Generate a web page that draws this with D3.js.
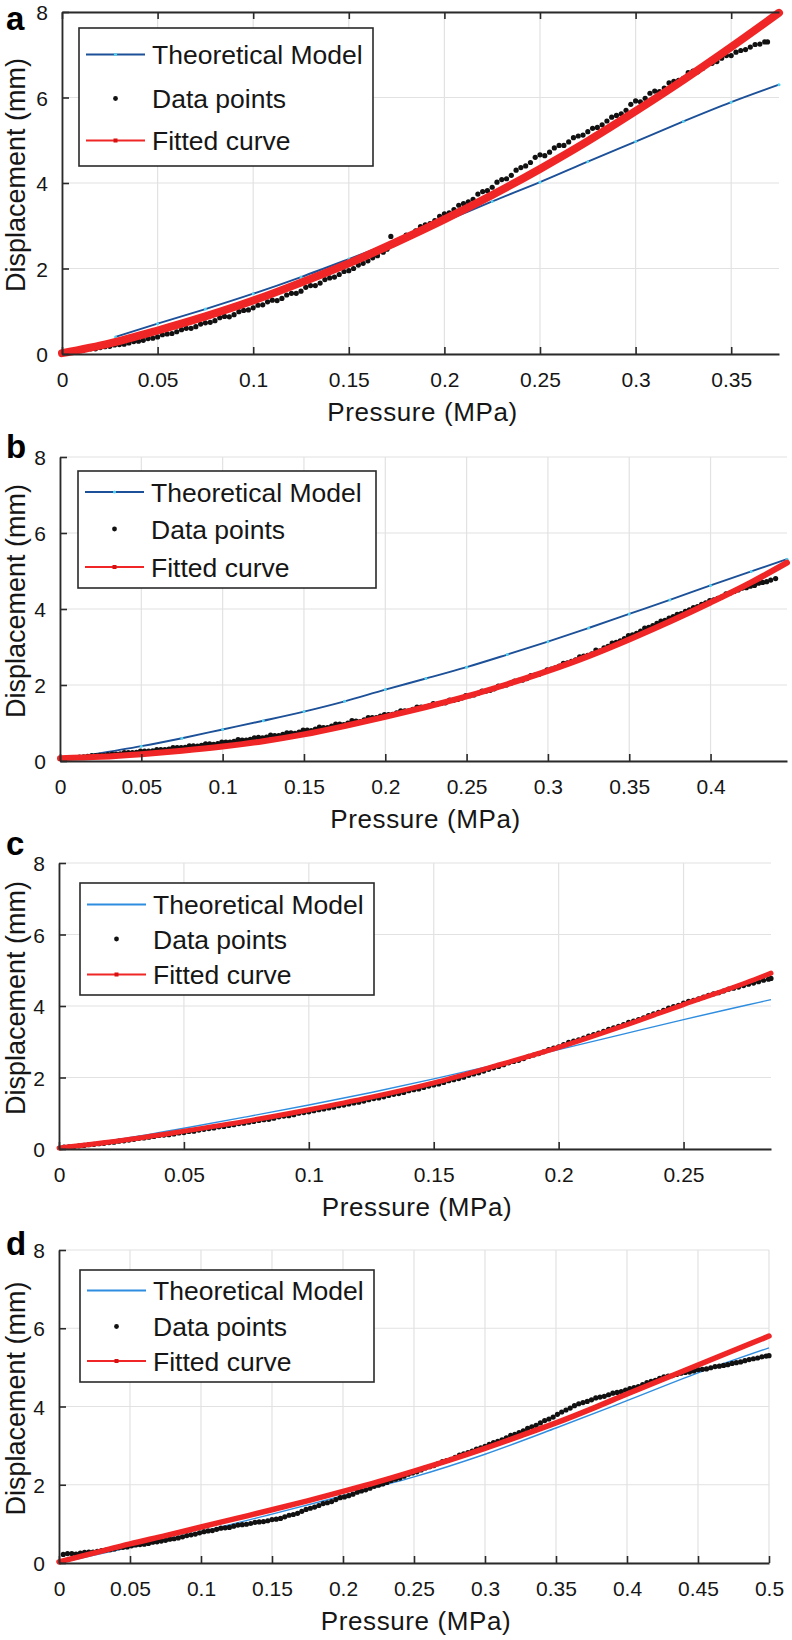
<!DOCTYPE html>
<html>
<head>
<meta charset="utf-8">
<script src="https://cdn.jsdelivr.net/npm/d3@7"></script>
<style>
  html, body { margin: 0; padding: 0; background: #ffffff; }
  svg { display: block; font-family: "Liberation Sans", Arial, Helvetica, sans-serif; }
</style>
</head>
<body>
<svg id="chart" width="792" height="1640"></svg>
<script>
// ---------------- DATA ----------------
const panelLetters = ["a", "b", "c", "d"];
const legendLabels = ["Theoretical Model", "Data points", "Fitted curve"];
const xAxisTitle = "Pressure (MPa)";
const yAxisTitle = "Displacement (mm)";

const yTicks = [0, 2, 4, 6, 8];
const yTickLabels = ["0", "2", "4", "6", "8"];

const xMaxA = 0.375, xMaxB = 0.447, xMaxC = 0.285, xMaxD = 0.5;
const xTicksA = [0, 0.05, 0.1, 0.15, 0.2, 0.25, 0.3, 0.35];
const xTickLabelsA = ["0", "0.05", "0.1", "0.15", "0.2", "0.25", "0.3", "0.35"];
const xTicksB = [0, 0.05, 0.1, 0.15, 0.2, 0.25, 0.3, 0.35, 0.4];
const xTickLabelsB = ["0", "0.05", "0.1", "0.15", "0.2", "0.25", "0.3", "0.35", "0.4"];
const xTicksC = [0, 0.05, 0.1, 0.15, 0.2, 0.25];
const xTickLabelsC = ["0", "0.05", "0.1", "0.15", "0.2", "0.25"];
const xTicksD = [0, 0.05, 0.1, 0.15, 0.2, 0.25, 0.3, 0.35, 0.4, 0.45, 0.5];
const xTickLabelsD = ["0", "0.05", "0.1", "0.15", "0.2", "0.25", "0.3", "0.35", "0.4", "0.45", "0.5"];

// Theoretical model [pressure MPa, displacement mm]
const theoryA = [[0.028,0.40],[0.05,0.71],[0.075,1.05],[0.1,1.41],[0.125,1.80],[0.15,2.22],[0.168,2.53],[0.2,3.10],[0.225,3.57],[0.25,4.02],[0.275,4.50],[0.3,4.97],[0.325,5.44],[0.35,5.89],[0.375,6.30]];
const theoryB = [[0.02,0.17],[0.05,0.39],[0.075,0.60],[0.1,0.83],[0.125,1.06],[0.15,1.30],[0.175,1.57],[0.2,1.88],[0.225,2.17],[0.25,2.47],[0.275,2.80],[0.3,3.14],[0.325,3.50],[0.35,3.87],[0.375,4.24],[0.4,4.62],[0.425,4.99],[0.447,5.31]];
const theoryC = [[0,0.03],[0.025,0.28],[0.05,0.58],[0.075,0.90],[0.1,1.23],[0.125,1.58],[0.15,1.96],[0.175,2.36],[0.2,2.78],[0.225,3.20],[0.25,3.62],[0.275,4.02],[0.285,4.18]];
const theoryD = [[0,0.0],[0.05,0.40],[0.1,0.80],[0.15,1.25],[0.2,1.72],[0.25,2.20],[0.3,2.78],[0.35,3.45],[0.4,4.15],[0.45,4.86],[0.5,5.50]];

// Fitted curve
const fitA = [[0,0.02],[0.025,0.25],[0.05,0.55],[0.075,0.88],[0.1,1.25],[0.125,1.67],[0.15,2.12],[0.175,2.62],[0.2,3.15],[0.225,3.72],[0.25,4.33],[0.275,4.98],[0.3,5.68],[0.325,6.41],[0.35,7.18],[0.375,7.98]];
const fitB = [[0,0.07],[0.025,0.11],[0.05,0.18],[0.075,0.27],[0.1,0.38],[0.125,0.52],[0.15,0.70],[0.175,0.92],[0.2,1.16],[0.225,1.42],[0.25,1.70],[0.275,2.02],[0.3,2.37],[0.325,2.76],[0.35,3.20],[0.375,3.67],[0.4,4.17],[0.425,4.70],[0.447,5.22]];
const fitC = [[0,0.03],[0.025,0.24],[0.05,0.50],[0.075,0.78],[0.1,1.10],[0.125,1.45],[0.15,1.85],[0.175,2.33],[0.2,2.84],[0.225,3.42],[0.25,4.04],[0.275,4.65],[0.285,4.92]];
const fitD = [[0,0.03],[0.025,0.26],[0.05,0.49],[0.075,0.70],[0.1,0.92],[0.125,1.14],[0.15,1.36],[0.175,1.59],[0.2,1.83],[0.225,2.08],[0.25,2.35],[0.275,2.63],[0.3,2.93],[0.325,3.25],[0.35,3.58],[0.375,3.94],[0.4,4.32],[0.425,4.69],[0.45,5.06],[0.475,5.43],[0.5,5.80]];

// Measured data points
const dataA = [[0.003,0.05],[0.0045,0.06],[0.006,0.07],[0.008,0.06],[0.01,0.08],[0.0125,0.11],[0.015,0.12],[0.0175,0.12],[0.02,0.15],[0.0225,0.17],[0.025,0.18],[0.0275,0.21],[0.03,0.22],[0.0325,0.23],[0.035,0.26],[0.0375,0.29],[0.04,0.30],[0.0425,0.32],[0.045,0.36],[0.0475,0.37],[0.05,0.40],[0.0525,0.45],[0.055,0.47],[0.0575,0.48],[0.06,0.52],[0.0625,0.57],[0.065,0.60],[0.0675,0.60],[0.07,0.64],[0.0725,0.70],[0.075,0.73],[0.0775,0.74],[0.08,0.78],[0.0825,0.85],[0.085,0.88],[0.0875,0.87],[0.09,0.92],[0.0925,0.99],[0.095,1.02],[0.0975,1.03],[0.1,1.08],[0.1025,1.14],[0.105,1.15],[0.1075,1.22],[0.11,1.26],[0.1125,1.25],[0.115,1.30],[0.1175,1.38],[0.12,1.42],[0.1225,1.42],[0.125,1.47],[0.1275,1.56],[0.13,1.60],[0.1325,1.60],[0.135,1.66],[0.1375,1.74],[0.14,1.78],[0.1425,1.80],[0.145,1.86],[0.1475,1.93],[0.15,1.95],[0.1525,2.00],[0.155,2.08],[0.1575,2.12],[0.16,2.18],[0.1625,2.25],[0.165,2.30],[0.168,2.38],[0.17,2.45],[0.172,2.75],[0.1735,2.56],[0.175,2.62],[0.1775,2.70],[0.18,2.78],[0.1825,2.80],[0.185,2.88],[0.1875,2.98],[0.19,3.02],[0.1925,3.05],[0.195,3.12],[0.1975,3.22],[0.2,3.28],[0.2025,3.30],[0.205,3.38],[0.2075,3.48],[0.21,3.52],[0.2125,3.56],[0.215,3.62],[0.2175,3.74],[0.22,3.80],[0.2225,3.82],[0.225,3.90],[0.2275,4.02],[0.23,4.08],[0.2325,4.10],[0.235,4.18],[0.2375,4.30],[0.24,4.36],[0.2425,4.40],[0.245,4.48],[0.2475,4.60],[0.25,4.66],[0.2525,4.64],[0.255,4.72],[0.2575,4.82],[0.26,4.88],[0.2625,4.88],[0.265,4.96],[0.2675,5.06],[0.27,5.10],[0.2725,5.12],[0.275,5.20],[0.2775,5.28],[0.28,5.30],[0.2825,5.36],[0.285,5.45],[0.2875,5.54],[0.29,5.58],[0.2925,5.62],[0.295,5.70],[0.2975,5.84],[0.3,5.92],[0.3025,5.90],[0.305,5.98],[0.3075,6.10],[0.31,6.15],[0.3125,6.14],[0.315,6.22],[0.3175,6.34],[0.32,6.38],[0.3225,6.40],[0.325,6.45],[0.3275,6.58],[0.33,6.62],[0.3325,6.60],[0.335,6.68],[0.3375,6.78],[0.34,6.80],[0.3425,6.84],[0.345,6.92],[0.3475,6.98],[0.35,6.98],[0.3525,7.06],[0.355,7.10],[0.3575,7.12],[0.36,7.18],[0.3625,7.24],[0.365,7.25],[0.3675,7.30],[0.369,7.30]];
const dataB = [[0.012,0.10],[0.0145,0.11],[0.017,0.12],[0.0195,0.14],[0.022,0.14],[0.0245,0.15],[0.027,0.15],[0.0295,0.17],[0.032,0.18],[0.0345,0.18],[0.037,0.19],[0.0395,0.22],[0.042,0.22],[0.0445,0.22],[0.047,0.23],[0.0495,0.26],[0.052,0.26],[0.0545,0.26],[0.057,0.27],[0.0595,0.30],[0.062,0.30],[0.0645,0.30],[0.067,0.31],[0.0695,0.35],[0.072,0.35],[0.0745,0.35],[0.077,0.36],[0.0795,0.40],[0.082,0.40],[0.0845,0.39],[0.087,0.41],[0.0895,0.45],[0.092,0.45],[0.0945,0.44],[0.097,0.46],[0.0995,0.50],[0.102,0.50],[0.1045,0.50],[0.107,0.52],[0.1095,0.56],[0.112,0.55],[0.1145,0.55],[0.117,0.57],[0.1195,0.61],[0.122,0.62],[0.1245,0.61],[0.127,0.63],[0.1295,0.68],[0.132,0.67],[0.1345,0.67],[0.137,0.70],[0.1395,0.74],[0.142,0.74],[0.1445,0.73],[0.147,0.76],[0.1495,0.81],[0.152,0.81],[0.1545,0.80],[0.157,0.84],[0.1595,0.89],[0.162,0.88],[0.1645,0.88],[0.167,0.92],[0.1695,0.97],[0.172,0.97],[0.1745,0.96],[0.177,1.00],[0.1795,1.06],[0.182,1.05],[0.1845,1.04],[0.187,1.08],[0.1895,1.14],[0.192,1.14],[0.1945,1.14],[0.197,1.18],[0.1995,1.22],[0.202,1.22],[0.2045,1.23],[0.207,1.27],[0.2095,1.32],[0.212,1.32],[0.2145,1.32],[0.217,1.36],[0.2195,1.42],[0.222,1.42],[0.2245,1.42],[0.227,1.45],[0.2295,1.51],[0.232,1.50],[0.2345,1.52],[0.237,1.53],[0.2395,1.60],[0.242,1.60],[0.2445,1.62],[0.247,1.66],[0.2495,1.72],[0.252,1.72],[0.2545,1.74],[0.257,1.78],[0.2595,1.84],[0.262,1.84],[0.2645,1.86],[0.267,1.90],[0.2695,1.97],[0.272,1.98],[0.2745,2.00],[0.277,2.04],[0.2795,2.10],[0.282,2.12],[0.2845,2.13],[0.287,2.17],[0.2895,2.25],[0.292,2.26],[0.2945,2.28],[0.297,2.33],[0.2995,2.40],[0.302,2.42],[0.3045,2.45],[0.307,2.50],[0.3095,2.57],[0.312,2.58],[0.3145,2.62],[0.317,2.66],[0.3195,2.74],[0.322,2.76],[0.3245,2.78],[0.327,2.82],[0.3295,2.92],[0.332,2.90],[0.3345,2.98],[0.337,3.02],[0.3395,3.10],[0.342,3.12],[0.3445,3.16],[0.347,3.22],[0.3495,3.30],[0.352,3.32],[0.3545,3.36],[0.357,3.42],[0.3595,3.50],[0.362,3.52],[0.3645,3.56],[0.367,3.62],[0.3695,3.68],[0.372,3.70],[0.3745,3.76],[0.377,3.80],[0.3795,3.86],[0.382,3.88],[0.3845,3.94],[0.387,3.98],[0.3895,4.04],[0.392,4.06],[0.3945,4.12],[0.397,4.16],[0.3995,4.22],[0.402,4.24],[0.4045,4.28],[0.407,4.32],[0.4095,4.40],[0.412,4.42],[0.4145,4.46],[0.417,4.50],[0.4195,4.55],[0.422,4.56],[0.4245,4.60],[0.427,4.62],[0.4295,4.68],[0.432,4.70],[0.4345,4.72],[0.437,4.76],[0.44,4.80]];
const dataC = [[0.002,0.05],[0.004,0.06],[0.006,0.07],[0.008,0.09],[0.010,0.10],[0.012,0.12],[0.014,0.13],[0.016,0.15],[0.018,0.16],[0.020,0.18],[0.022,0.19],[0.024,0.22],[0.026,0.23],[0.028,0.25],[0.030,0.27],[0.032,0.30],[0.034,0.31],[0.036,0.33],[0.038,0.35],[0.040,0.38],[0.042,0.39],[0.044,0.40],[0.046,0.42],[0.048,0.45],[0.050,0.46],[0.052,0.49],[0.054,0.50],[0.056,0.53],[0.058,0.55],[0.060,0.57],[0.062,0.59],[0.064,0.62],[0.066,0.63],[0.068,0.66],[0.070,0.68],[0.072,0.71],[0.074,0.72],[0.076,0.75],[0.078,0.77],[0.080,0.80],[0.082,0.82],[0.084,0.83],[0.086,0.86],[0.088,0.90],[0.090,0.92],[0.092,0.93],[0.094,0.96],[0.096,1.00],[0.098,1.02],[0.100,1.04],[0.102,1.07],[0.104,1.10],[0.106,1.12],[0.108,1.15],[0.110,1.17],[0.112,1.21],[0.114,1.23],[0.116,1.26],[0.118,1.29],[0.120,1.31],[0.122,1.34],[0.124,1.38],[0.126,1.41],[0.128,1.43],[0.130,1.46],[0.132,1.50],[0.134,1.53],[0.136,1.55],[0.138,1.58],[0.140,1.63],[0.142,1.66],[0.144,1.68],[0.146,1.72],[0.148,1.76],[0.150,1.79],[0.152,1.82],[0.154,1.86],[0.156,1.91],[0.158,1.94],[0.160,1.97],[0.162,2.01],[0.164,2.06],[0.166,2.10],[0.168,2.13],[0.170,2.18],[0.172,2.23],[0.174,2.27],[0.176,2.31],[0.178,2.36],[0.180,2.41],[0.182,2.45],[0.184,2.48],[0.186,2.53],[0.188,2.59],[0.190,2.63],[0.192,2.67],[0.194,2.72],[0.196,2.78],[0.198,2.82],[0.200,2.86],[0.202,2.92],[0.204,2.98],[0.206,3.02],[0.208,3.05],[0.210,3.10],[0.212,3.16],[0.214,3.20],[0.216,3.24],[0.218,3.29],[0.220,3.35],[0.222,3.39],[0.224,3.43],[0.226,3.48],[0.228,3.54],[0.230,3.58],[0.232,3.62],[0.234,3.67],[0.236,3.73],[0.238,3.78],[0.240,3.82],[0.242,3.88],[0.244,3.94],[0.246,3.98],[0.248,4.02],[0.250,4.08],[0.252,4.13],[0.254,4.16],[0.256,4.20],[0.258,4.25],[0.260,4.30],[0.262,4.34],[0.264,4.37],[0.266,4.42],[0.268,4.47],[0.270,4.50],[0.272,4.53],[0.274,4.57],[0.276,4.61],[0.278,4.64],[0.280,4.68],[0.282,4.72],[0.284,4.75],[0.285,4.77]];
const dataD = [[0.003,0.22],[0.006,0.24],[0.009,0.24],[0.012,0.23],[0.015,0.25],[0.018,0.27],[0.021,0.28],[0.024,0.28],[0.027,0.30],[0.030,0.32],[0.033,0.33],[0.036,0.34],[0.039,0.36],[0.042,0.39],[0.045,0.40],[0.048,0.41],[0.051,0.44],[0.054,0.46],[0.057,0.47],[0.060,0.48],[0.063,0.50],[0.066,0.53],[0.069,0.54],[0.072,0.56],[0.075,0.58],[0.078,0.61],[0.081,0.62],[0.084,0.64],[0.087,0.67],[0.090,0.70],[0.093,0.72],[0.096,0.74],[0.099,0.77],[0.102,0.80],[0.105,0.82],[0.108,0.83],[0.111,0.86],[0.114,0.89],[0.117,0.90],[0.120,0.91],[0.123,0.94],[0.126,0.97],[0.129,0.98],[0.132,0.99],[0.135,1.01],[0.138,1.04],[0.141,1.05],[0.144,1.06],[0.147,1.08],[0.150,1.11],[0.153,1.12],[0.156,1.14],[0.159,1.18],[0.162,1.22],[0.165,1.24],[0.168,1.27],[0.171,1.32],[0.174,1.37],[0.177,1.40],[0.180,1.43],[0.183,1.47],[0.186,1.52],[0.189,1.54],[0.192,1.57],[0.195,1.62],[0.198,1.67],[0.201,1.69],[0.204,1.72],[0.207,1.76],[0.210,1.81],[0.213,1.84],[0.216,1.87],[0.219,1.91],[0.222,1.96],[0.225,1.99],[0.228,2.02],[0.231,2.06],[0.234,2.11],[0.237,2.14],[0.240,2.17],[0.243,2.22],[0.246,2.27],[0.249,2.30],[0.252,2.33],[0.255,2.38],[0.258,2.43],[0.261,2.46],[0.264,2.49],[0.267,2.54],[0.270,2.59],[0.273,2.62],[0.276,2.65],[0.279,2.70],[0.282,2.76],[0.285,2.79],[0.288,2.82],[0.291,2.86],[0.294,2.91],[0.297,2.94],[0.300,2.98],[0.303,3.03],[0.306,3.08],[0.309,3.11],[0.312,3.15],[0.315,3.20],[0.318,3.26],[0.321,3.29],[0.324,3.33],[0.327,3.38],[0.330,3.44],[0.333,3.48],[0.336,3.52],[0.339,3.58],[0.342,3.64],[0.345,3.68],[0.348,3.73],[0.351,3.80],[0.354,3.86],[0.357,3.91],[0.360,3.96],[0.363,4.02],[0.366,4.07],[0.369,4.10],[0.372,4.13],[0.375,4.17],[0.378,4.22],[0.381,4.24],[0.384,4.26],[0.387,4.30],[0.390,4.34],[0.393,4.36],[0.396,4.38],[0.399,4.42],[0.402,4.46],[0.405,4.48],[0.408,4.51],[0.411,4.56],[0.414,4.61],[0.417,4.64],[0.420,4.67],[0.423,4.72],[0.426,4.76],[0.429,4.78],[0.432,4.79],[0.435,4.82],[0.438,4.85],[0.441,4.87],[0.444,4.88],[0.447,4.91],[0.450,4.94],[0.453,4.95],[0.456,4.96],[0.459,4.99],[0.462,5.02],[0.465,5.03],[0.468,5.05],[0.471,5.07],[0.474,5.10],[0.477,5.12],[0.480,5.14],[0.483,5.17],[0.486,5.20],[0.489,5.22],[0.492,5.24],[0.495,5.27],[0.498,5.29],[0.5,5.30]];

// ---------------- LAYOUT / STYLE ----------------
const panels = [
  { letter: panelLetters[0], letterY: 30,  left: 62, right: 779, top: 12,   bottom: 354,  xMax: xMaxA, xTicks: xTicksA, xLabels: xTickLabelsA,
    theory: theoryA, data: dataA, fit: fitA, theoryColor: "#1c5098", theoryW: 1.9, theoryMarkers: true, fitWidth: 8, topBox: true,
    legend: { x0: 79, x1: 373, y0: 28, y1: 166, rows: [64, 108, 150] } },
  { letter: panelLetters[1], letterY: 458, left: 60, right: 787, top: 457,  bottom: 761,  xMax: xMaxB, xTicks: xTicksB, xLabels: xTickLabelsB,
    theory: theoryB, data: dataB, fit: fitB, theoryColor: "#1c5098", theoryW: 1.9, theoryMarkers: true, fitWidth: 6, topBox: false,
    legend: { x0: 78, x1: 376, y0: 471, y1: 588, rows: [501.5, 538.5, 576.5] } },
  { letter: panelLetters[2], letterY: 855, left: 59, right: 771, top: 863,  bottom: 1149, xMax: xMaxC, xTicks: xTicksC, xLabels: xTickLabelsC,
    theory: theoryC, data: dataC, fit: fitC, theoryColor: "#2f8de0", theoryW: 1.4, theoryMarkers: false, fitWidth: 5, topBox: false,
    legend: { x0: 80, x1: 374, y0: 883, y1: 995, rows: [914, 948.5, 984] } },
  { letter: panelLetters[3], letterY: 1255, left: 59, right: 769, top: 1250, bottom: 1563, xMax: xMaxD, xTicks: xTicksD, xLabels: xTickLabelsD,
    theory: theoryD, data: dataD, fit: fitD, theoryColor: "#2f8de0", theoryW: 1.4, theoryMarkers: false, fitWidth: 5.5, topBox: false,
    legend: { x0: 80, x1: 374, y0: 1270, y1: 1382, rows: [1300, 1336, 1370.5] } }
];

const FIT_COLOR = "#f02626";
const FIT_MARK = "#d81010";
const CYAN = "#52d2ef";
const AXIS_COLOR = "#2a2a2a";
const GRID_COLOR = "#e2e2e2";
const TEXT_COLOR = "#161616";

const svg = d3.select("#chart");

panels.forEach(p => {
  const x = d3.scaleLinear().domain([0, p.xMax]).range([p.left, p.right]);
  const y = d3.scaleLinear().domain([0, 8]).range([p.bottom, p.top]);
  const g = svg.append("g");

  // grid
  g.append("g").selectAll("line").data(p.xTicks).join("line")
    .attr("x1", d => x(d)).attr("x2", d => x(d))
    .attr("y1", p.top).attr("y2", p.bottom)
    .attr("stroke", GRID_COLOR).attr("stroke-width", 1.2);
  g.append("g").selectAll("line").data(yTicks).join("line")
    .attr("x1", p.left).attr("x2", p.right)
    .attr("y1", d => y(d)).attr("y2", d => y(d))
    .attr("stroke", GRID_COLOR).attr("stroke-width", 1.2);

  // theoretical model
  const line = d3.line().x(d => x(d[0])).y(d => y(d[1])).curve(d3.curveMonotoneX);
  g.append("path").datum(p.theory).attr("d", line)
    .attr("fill", "none").attr("stroke", p.theoryColor).attr("stroke-width", p.theoryW);
  if (p.theoryMarkers) {
    g.append("g").selectAll("circle").data(p.theory).join("circle")
      .attr("cx", d => x(d[0])).attr("cy", d => y(d[1])).attr("r", 1.5)
      .attr("fill", CYAN);
  }

  // data points
  g.append("g").selectAll("circle").data(p.data).join("circle")
    .attr("cx", d => x(d[0])).attr("cy", d => y(d[1])).attr("r", 2.6)
    .attr("fill", "#111");

  // fitted curve
  g.append("path").datum(p.fit).attr("d", line)
    .attr("fill", "none").attr("stroke", FIT_COLOR).attr("stroke-width", p.fitWidth)
    .attr("stroke-linecap", "round");

  // axes
  const xAxis = d3.axisBottom(x).tickValues(p.xTicks).tickFormat((d, i) => p.xLabels[i])
    .tickSize(-7).tickPadding(18).tickSizeOuter(0);
  const gx = g.append("g").attr("transform", `translate(0,${p.bottom})`).call(xAxis);
  const yAxis = d3.axisLeft(y).tickValues(yTicks).tickFormat((d, i) => yTickLabels[i])
    .tickSize(-7).tickPadding(14).tickSizeOuter(0);
  const gy = g.append("g").attr("transform", `translate(${p.left},0)`).call(yAxis);
  [gx, gy].forEach(a => {
    a.select(".domain").attr("stroke", AXIS_COLOR).attr("stroke-width", 1.8);
    a.selectAll(".tick line").attr("stroke", AXIS_COLOR).attr("stroke-width", 1.6);
    a.selectAll(".tick text").attr("fill", TEXT_COLOR).attr("font-size", 21)
      .attr("font-family", "'Liberation Sans', Arial, sans-serif");
  });
  gy.selectAll(".tick text").attr("dy", "0.36em");
  if (p.topBox) {
    const xTop = d3.axisTop(x).tickValues(p.xTicks).tickFormat("").tickSize(-7).tickSizeOuter(0);
    const gt = g.append("g").attr("transform", `translate(0,${p.top})`).call(xTop);
    gt.select(".domain").attr("stroke", AXIS_COLOR).attr("stroke-width", 1.8);
    gt.selectAll(".tick line").attr("stroke", AXIS_COLOR).attr("stroke-width", 1.6);
  }

  // axis titles
  g.append("text").attr("x", (p.left + p.right) / 2 + 2).attr("y", p.bottom + 66.5)
    .attr("text-anchor", "middle").attr("font-size", 26).attr("fill", TEXT_COLOR)
    .attr("letter-spacing", 0.6).text(xAxisTitle);
  g.append("text").attr("transform", `translate(25,${(p.top + p.bottom) / 2 - 8}) rotate(-90)`)
    .attr("text-anchor", "middle").attr("font-size", 27).attr("fill", TEXT_COLOR)
    .text(yAxisTitle);

  // panel letter
  g.append("text").attr("x", 6).attr("y", p.letterY)
    .attr("font-size", 33).attr("font-weight", "bold").attr("fill", "#000")
    .text(p.letter);

  // legend
  const L = p.legend;
  const lg = g.append("g");
  lg.append("rect").attr("x", L.x0).attr("y", L.y0).attr("width", L.x1 - L.x0).attr("height", L.y1 - L.y0)
    .attr("fill", "#fff").attr("stroke", AXIS_COLOR).attr("stroke-width", 1.6);
  const sx0 = L.x0 + 7, sx1 = L.x0 + 66, sxm = (sx0 + sx1) / 2;
  L.rows.forEach((by, i) => {
    const cy = by - 9.5;
    if (i === 0) {
      lg.append("line").attr("x1", sx0).attr("x2", sx1).attr("y1", cy).attr("y2", cy)
        .attr("stroke", p.theoryColor).attr("stroke-width", 1.8);
      if (p.theoryMarkers) lg.append("circle").attr("cx", sxm).attr("cy", cy).attr("r", 1.6).attr("fill", CYAN);
    } else if (i === 1) {
      lg.append("circle").attr("cx", sxm).attr("cy", cy).attr("r", 2.4).attr("fill", "#111");
    } else {
      lg.append("line").attr("x1", sx0).attr("x2", sx1).attr("y1", cy).attr("y2", cy)
        .attr("stroke", FIT_COLOR).attr("stroke-width", 1.8);
      lg.append("rect").attr("x", sxm - 2).attr("y", cy - 2).attr("width", 4).attr("height", 4).attr("fill", FIT_MARK);
    }
    lg.append("text").attr("x", L.x0 + 73).attr("y", by)
      .attr("font-size", 26.5).attr("fill", TEXT_COLOR).text(legendLabels[i]);
  });
});
</script>
</body>
</html>
